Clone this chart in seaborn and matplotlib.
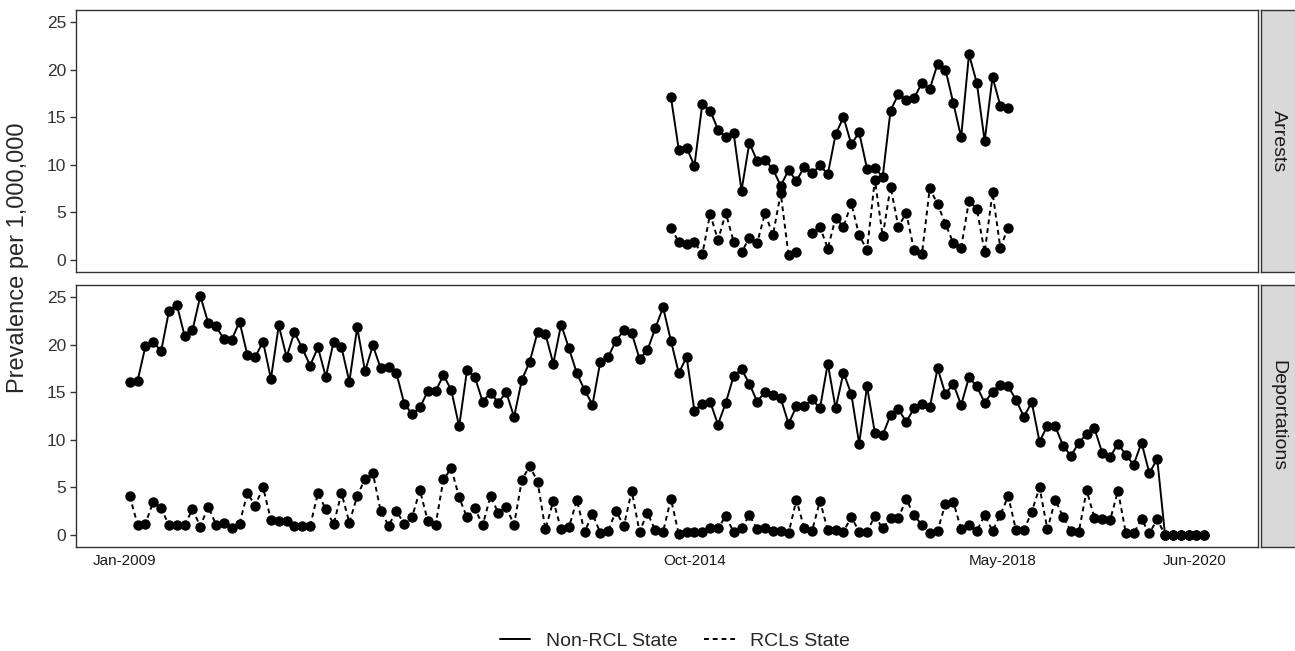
import numpy as np
import pandas as pd
import matplotlib.pyplot as plt
from matplotlib.lines import Line2D
import seaborn as sns

# === Data (monthly prevalence per 1,000,000) ===
# Deportations: Jan-2009 .. Jun-2020 (138 months)
deport_non_rcl = [
    16.1, 16.2, 19.8, 20.3, 19.3, 23.5, 24.2, 20.9, 21.5, 25.1,
    22.3, 21.9, 20.6, 20.5, 22.4, 18.9, 18.7, 20.3, 16.4, 22.0,
    18.7, 21.3, 19.6, 17.8, 19.7, 16.6, 20.3, 19.7, 16.1, 21.8,
    17.2, 19.9, 17.5, 17.6, 17.0, 13.8, 12.7, 13.4, 15.1,
    15.1, 16.8, 15.2, 11.4, 17.3, 16.6, 14.0, 14.95, 13.9, 15.0,
    12.4, 16.3, 18.2, 21.3, 21.1, 18.0, 22.1, 19.6, 17.0, 15.2,
    13.7, 18.2, 18.7, 20.4, 21.5, 21.2, 18.5, 19.4, 21.7, 23.9,
    20.4, 17.0, 18.7, 13.0, 13.8, 14.0, 11.6, 13.9, 16.7, 17.4,
    15.9,
    14.0, 15.05, 14.7, 14.35, 11.7, 13.5, 13.5, 14.25, 13.3, 18.0,
    13.3, 17.05, 14.8, 9.6, 15.6, 10.75, 10.5, 12.6, 13.2, 11.9,
    13.3, 13.8, 13.4, 17.5, 14.8, 15.9, 13.65, 16.55, 15.6, 13.9,
    15.05, 15.8, 15.6, 14.2, 12.4, 13.95, 9.8, 11.5, 11.4, 9.4,
    8.3,
    9.7, 10.6, 11.2, 8.6, 8.2, 9.6, 8.4, 7.4, 9.7, 6.5, 8.0,
    0, 0, 0, 0, 0, 0,
]
deport_rcl = [
    4.1, 1.1, 1.2, 3.5, 2.8, 1.05, 1.05, 1.05, 2.7, 0.9,
    3.0, 1.1, 1.3, 0.7, 1.2, 4.4, 3.1, 5.0, 1.6, 1.5,
    1.5, 0.95, 0.95, 0.95, 4.4, 2.7, 1.15, 4.4, 1.3, 4.1,
    5.9, 6.5, 2.5, 1.0, 2.5, 1.2, 1.9, 4.7, 1.5,
    1.1, 5.85, 7.0, 3.95, 1.85, 2.8, 1.05, 4.1, 2.3, 2.9,
    1.1, 5.8, 7.25, 5.6, 0.6, 3.6, 0.6, 0.8, 3.7, 0.35,
    2.2, 0.25, 0.45, 2.55, 0.95, 4.65, 0.35, 2.35, 0.5, 0.35,
    3.8, 0.1, 0.3, 0.3, 0.3, 0.7, 0.7, 2.0, 0.3, 0.7,
    2.1,
    0.6, 0.7, 0.45, 0.45, 0.2, 3.7, 0.7, 0.45, 3.6, 0.5,
    0.5, 0.35, 1.9, 0.35, 0.35, 2.0, 0.7, 1.8, 1.8, 3.75,
    2.1, 1.05, 0.2, 0.45, 3.3, 3.5, 0.6, 1.05, 0.45, 2.1,
    0.45, 2.1, 4.1, 0.5, 0.5, 2.45, 5.0, 0.6, 3.7, 1.9,
    0.4,
    0.3, 4.7, 1.8, 1.65, 1.6, 4.65, 0.2, 0.2, 1.65, 0.2, 1.65,
    0, 0, 0, 0, 0, 0,
]
# Arrests: Oct-2014 .. May-2018 (44 months), one missing month for RCLs
arrest_non_rcl = [
    17.1, 11.6, 11.8, 9.9, 16.4, 15.7, 13.7, 12.9, 13.3, 7.3,
    12.3, 10.4, 10.5, 9.55, 7.8, 9.45, 8.3, 9.8, 9.1, 9.95,
    9.0, 13.2, 15.0, 12.15, 13.4, 9.6, 9.65, 8.75, 15.7, 17.4,
    16.8, 17.0, 18.6, 17.95, 20.6, 20.0, 16.5, 12.9, 21.6, 18.6,
    12.5, 19.2, 16.2, 16.0,
]
arrest_rcl = [
    3.4, 1.9, 1.7, 1.9, 0.6, 4.85, 2.1, 4.95, 1.9, 0.8,
    2.35, 1.8, 4.95, 2.6, 7.0, 0.5, 0.8, np.nan, 2.85, 3.5,
    1.2, 4.45, 3.5, 5.95, 2.6, 1.05, 8.45, 2.5, 7.7, 3.5,
    4.95, 1.05, 0.6, 7.55, 5.85, 3.8, 1.8, 1.3, 6.2, 5.4,
    0.8, 7.1, 1.3, 3.4,
]
arrest_start = 69  # months after Jan-2009 (Oct-2014)

groups = ['Non-RCL State', 'RCLs State']
panels = ['Arrests', 'Deportations']
tick_labels = ['Jan-2009', 'Oct-2014', 'May-2018', 'Jun-2020']
tick_pos = [-0.7, 72.0, 111.3, 135.8]


def to_long(values, group, panel, start=0):
    df = pd.DataFrame({'month': np.arange(start, start + len(values)),
                       'value': values})
    df['group'] = group
    df['panel'] = panel
    # break the line at missing months
    df['seg'] = group + df['value'].isna().cumsum().astype(str)
    return df.dropna()


data = pd.concat([
    to_long(arrest_non_rcl, groups[0], panels[0], arrest_start),
    to_long(arrest_rcl, groups[1], panels[0], arrest_start),
    to_long(deport_non_rcl, groups[0], panels[1]),
    to_long(deport_rcl, groups[1], panels[1]),
], ignore_index=True)

# === Plot ===
sns.set_style('white')
plt.rcParams['font.family'] = ['Liberation Sans', 'DejaVu Sans']

W, H = 1295, 651
fig = plt.figure(figsize=(W / 100, H / 100), dpi=100)

left, right = 76, 1258
panel_px = [(10, 272), (285, 547)]
dash = (2.5, 2)

for panel, (top, bottom) in zip(panels, panel_px):
    ax = fig.add_axes([left / W, 1 - bottom / H, (right - left) / W, (bottom - top) / H])
    sns.lineplot(data=data[data.panel == panel], x='month', y='value',
                 style='group', style_order=groups, units='seg', estimator=None,
                 dashes={groups[0]: '', groups[1]: dash},
                 markers={groups[0]: 'o', groups[1]: 'o'},
                 color='black', linewidth=1.4, markersize=7.5,
                 markeredgewidth=0, legend=False, ax=ax)
    ax.set_xlim(-6.85, 143.85)
    ax.set_ylim(-1.25, 26.25)
    ax.set_yticks(range(0, 26, 5))
    ax.set_xlabel('')
    ax.set_ylabel('')
    for s in ax.spines.values():
        s.set_visible(True)
        s.set_color('#333333')
        s.set_linewidth(1.0)
    ax.tick_params(axis='y', labelsize=12.5, labelcolor='#333333', color='#333333',
                   length=4, width=1, left=True, pad=3)
    if panel == panels[-1]:
        ax.set_xticks(tick_pos)
        ax.set_xticklabels(tick_labels)
        ax.tick_params(axis='x', labelsize=11, labelcolor='#1a1a1a', length=0, pad=5)
    else:
        ax.set_xticks([])

    # facet strip on the right
    sax = fig.add_axes([1261 / W, 1 - bottom / H, 40 / W, (bottom - top) / H])
    sax.set_facecolor('#d9d9d9')
    sax.set_xticks([])
    sax.set_yticks([])
    for s in sax.spines.values():
        s.set_color('#333333')
        s.set_linewidth(1.0)
    fig.text(1278 / W, 1 - (top + bottom) / 2 / H, panel, rotation=-90,
             ha='center', va='center', fontsize=14, color='#1a1a1a')

fig.text(18 / W, 1 - 258 / H, 'Prevalence per 1,000,000', rotation=90,
         ha='center', va='center', fontsize=17)

handles = [Line2D([], [], color='black', lw=1.4),
           Line2D([], [], color='black', lw=1.4, ls=(0, dash))]
fig.legend(handles, groups, loc='center', bbox_to_anchor=(675 / W, 1 - 641 / H),
           ncol=2, frameon=False, fontsize=14, handlelength=1.55,
           handletextpad=0.8, columnspacing=1.4)

plt.savefig('out.png', dpi=100)
